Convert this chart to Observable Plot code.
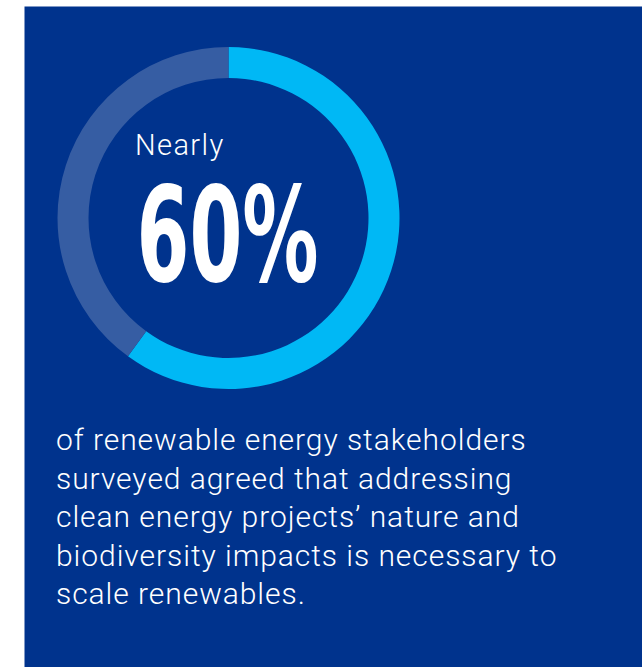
<!DOCTYPE html>
<html><head><meta charset="utf-8">
<script src="https://cdn.jsdelivr.net/npm/d3@7"></script>
<script src="https://cdn.jsdelivr.net/npm/@observablehq/plot@0.6"></script>
<style>html,body{margin:0;padding:0;background:#fff;} svg{display:block;}</style>
</head><body><div id="chart"></div>
<script>
const segments = ["Agreed", "Other"];
const shares = [60, 40];
const palette = ["#00B8F5", "#365DA3"];
const headline = "Nearly";
const statLabel = "60%";
const bodyLines = [
  "of renewable energy stakeholders",
  "surveyed agreed that addressing",
  "clean energy projects’ nature and",
  "biodiversity impacts is necessary to",
  "scale renewables."
];

const W = 642, H = 667;
const color = Plot.scale({color: {type: "ordinal", domain: segments, range: palette}});
const pieData = segments.map((s, i) => ({segment: s, share: shares[i]}));

function donut(index, scales, values, dimensions) {
  const cx = 228.5, cy = 218, r0 = 140, r1 = 171;
  const arcs = d3.pie().sort(null).value(d => d.share)(pieData);
  const arc = d3.arc().innerRadius(r0).outerRadius(r1);
  const g = d3.create("svg:g").attr("transform", `translate(${cx},${cy})`);
  g.selectAll("path").data(arcs).join("path")
    .attr("d", arc)
    .attr("fill", d => color.apply(d.data.segment));
  return g.node();
}

const lightFont = "Roboto, 'Open Sans', sans-serif";
const chart = Plot.plot({
  width: W, height: H, margin: 0,
  style: {background: "#fff", overflow: "visible"},
  marks: [
    Plot.frame({fill: "#00338D", stroke: "none", insetLeft: 24, insetTop: 6}),
    donut,
    Plot.text([headline], {text: d => d, frameAnchor: "top-left", dx: 134.5, dy: 154.5,
      lineAnchor: "bottom", textAnchor: "start", fill: "#fff", fontSize: 29, fontWeight: 300, fontFamily: lightFont}),
    Plot.text([statLabel], {text: d => d, frameAnchor: "top-left", dx: 136, dy: 280.5,
      lineAnchor: "bottom", textAnchor: "start", fill: "#fff", fontSize: 131, fontWeight: 700,
      fontFamily: "'Liberation Sans Narrow', 'DejaVu Sans Condensed', 'Liberation Sans', sans-serif"}),
    Plot.text([bodyLines.join("\n")], {text: d => d, frameAnchor: "top-left", dx: 55.5, dy: 603.5,
      lineAnchor: "bottom", textAnchor: "start", lineHeight: 38.5 / 30, fill: "#fff", fontSize: 30, fontWeight: 300, fontFamily: lightFont})
  ]
});
chart.querySelectorAll("text").forEach(t => {
  const s = t.textContent;
  if (s === statLabel) {
    t.setAttribute("textLength", 182);
    t.setAttribute("lengthAdjust", "spacingAndGlyphs");
  } else if (s === headline) {
    t.style.letterSpacing = "1.4px";
  } else if (s.startsWith(bodyLines[0])) {
    t.style.letterSpacing = "0.95px";
  }
});
document.getElementById("chart").appendChild(chart);
</script>
</body></html>
